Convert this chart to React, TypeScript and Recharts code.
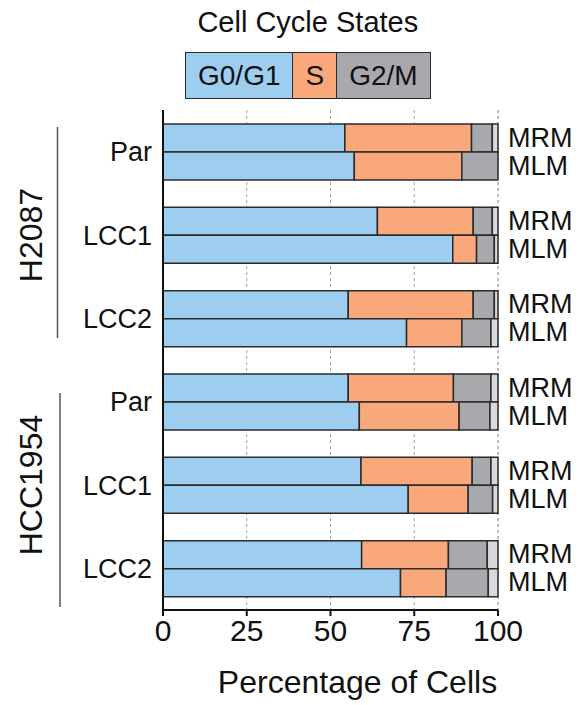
import React from "react";
import { BarChart, Bar, XAxis, YAxis, CartesianGrid, Legend, Label } from "recharts";

const FONT = "'Liberation Sans', Arial, Helvetica, sans-serif";

const cellLines = ["H2087", "H2087", "H2087", "HCC1954", "HCC1954", "HCC1954"];
const samples = ["Par", "LCC1", "LCC2", "Par", "LCC1", "LCC2"];
const stacks = ["MRM", "MLM"];

// MRM row of each pair (top bar)
const mrmG1 = [54.3, 64.0, 55.3, 55.3, 59.1, 59.3];
const mrmS = [37.8, 28.6, 37.3, 31.4, 33.2, 25.9];
const mrmG2 = [6.2, 5.7, 6.3, 11.2, 5.6, 11.6];
const mrmOther = [1.7, 1.7, 1.1, 2.1, 2.1, 3.2];

// MLM row of each pair (bottom bar)
const mlmG1 = [57.1, 86.5, 72.7, 58.6, 73.2, 70.9];
const mlmS = [32.1, 7.1, 16.5, 29.8, 17.9, 13.6];
const mlmG2 = [10.8, 5.3, 8.7, 9.2, 7.3, 12.6];
const mlmOther = [0, 1.1, 2.1, 2.4, 1.6, 2.9];

const phases = ["G0/G1", "S", "G2/M"];
const phaseColors = ["#9dcdef", "#f9a87c", "#a8a9ad"];
const otherColor = "#d9d9db";
const xTicks = [0, 25, 50, 75, 100];

const rows = samples.map((s, i) => ({
  sample: s,
  line: cellLines[i],
  mrmG1: mrmG1[i],
  mrmS: mrmS[i],
  mrmG2: mrmG2[i],
  mrmOther: mrmOther[i],
  mlmG1: mlmG1[i],
  mlmS: mlmS[i],
  mlmG2: mlmG2[i],
  mlmOther: mlmOther[i],
}));

const EDGE = "#2b2b2b";
const BAR = 28;

function CycleLegend({ payload }: any) {
  const items = phases.map((name, i) => {
    const hit = (payload || []).find((p: any) => p.value === name);
    return { name, color: hit ? hit.color : phaseColors[i] };
  });
  return (
    <div style={{ fontFamily: FONT, color: "#111" }}>
      <div style={{ textAlign: "center", fontSize: 29, lineHeight: "29px", marginTop: 8 }}>Cell Cycle States</div>
      <div style={{ display: "flex", marginTop: 15, border: `1.5px solid ${EDGE}`, height: 45 }}>
        {items.map((p, i) => (
          <div
            key={p.name}
            style={{
              background: p.color,
              padding: "0 12px",
              fontSize: 28,
              lineHeight: "45px",
              borderLeft: i ? `1.5px solid ${EDGE}` : "none",
            }}
          >
            {p.name}
          </div>
        ))}
      </div>
    </div>
  );
}

function GroupTick(props: any) {
  const { y, index, payload } = props;
  if (index !== 1 && index !== 4) return <g />;
  const up = index === 1 ? 108 : 92;
  const down = index === 1 ? 103 : 122;
  const lx = index === 1 ? 57.5 : 60;
  const tx = 42;
  return (
    <g>
      <line x1={lx} x2={lx} y1={y - up} y2={y + down} stroke="#555" strokeWidth={1.5} />
      <text
        x={tx}
        y={y}
        transform={`rotate(-90 ${tx} ${y})`}
        textAnchor="middle"
        fontSize={32}
        fontFamily={FONT}
        fill="#111"
      >
        {payload.value}
      </text>
    </g>
  );
}

// one label per stacked bar of the pair, beside the bar's end
function PairTick(props: any) {
  const { x, y } = props;
  return (
    <g>
      {stacks.map((s, k) => (
        <text
          key={s}
          x={x}
          y={y + (k - 0.5) * BAR}
          dominantBaseline="central"
          textAnchor="start"
          fontSize={27}
          fontFamily={FONT}
          fill="#111"
        >
          {s}
        </text>
      ))}
    </g>
  );
}

export default function App() {
  return (
    <div style={{ position: "absolute", left: 0, top: 0, background: "#fff" }}>
      <BarChart
        width={579}
        height={705}
        data={rows}
        layout="vertical"
        margin={{ top: 110, right: 0, bottom: 0, left: 0 }}
        barGap={0}
        barSize={BAR}
      >
        <CartesianGrid horizontal={false} strokeDasharray="3 3" stroke="#a5a5a5" />
        <XAxis
          type="number"
          domain={[0, 100]}
          ticks={xTicks}
          interval={0}
          height={95}
          axisLine={{ stroke: "#111", strokeWidth: 2 }}
          tickLine={{ stroke: "#111", strokeWidth: 2 }}
          tickSize={6}
          tickMargin={4}
          tick={{ fontSize: 30, fill: "#111", fontFamily: FONT }}
        >
          <Label
            value="Percentage of Cells"
            position="insideBottom"
            offset={12}
            dx={27}
            style={{ fontSize: 32, fill: "#111", fontFamily: FONT }}
          />
        </XAxis>
        <YAxis
          type="category"
          dataKey="sample"
          width={63}
          axisLine={{ stroke: "#111", strokeWidth: 2 }}
          tickLine={false}
          tickSize={0}
          tickMargin={11}
          tick={{ fontSize: 27, fill: "#111", fontFamily: FONT }}
        />
        <YAxis
          yAxisId="group"
          type="category"
          dataKey="line"
          width={100}
          axisLine={false}
          tickLine={false}
          tick={<GroupTick />}
        />
        <YAxis
          yAxisId="pair"
          type="category"
          dataKey="sample"
          orientation="right"
          width={81}
          axisLine={false}
          tickLine={false}
          tickSize={0}
          tickMargin={10}
          tick={<PairTick />}
        />
        <Legend
          layout="horizontal"
          verticalAlign="middle"
          align="center"
          wrapperStyle={{ top: 0, left: 185, width: "auto" }}
          content={<CycleLegend />}
        />
        <Bar dataKey="mrmG1" name={phases[0]} stackId="MRM" fill={phaseColors[0]} stroke={EDGE} strokeWidth={1.5} isAnimationActive={false} />
        <Bar dataKey="mrmS" name={phases[1]} stackId="MRM" fill={phaseColors[1]} stroke={EDGE} strokeWidth={1.5} isAnimationActive={false} />
        <Bar dataKey="mrmG2" name={phases[2]} stackId="MRM" fill={phaseColors[2]} stroke={EDGE} strokeWidth={1.5} isAnimationActive={false} />
        <Bar dataKey="mrmOther" stackId="MRM" legendType="none" fill={otherColor} stroke={EDGE} strokeWidth={1.5} isAnimationActive={false} />
        <Bar dataKey="mlmG1" stackId="MLM" legendType="none" fill={phaseColors[0]} stroke={EDGE} strokeWidth={1.5} isAnimationActive={false} />
        <Bar dataKey="mlmS" stackId="MLM" legendType="none" fill={phaseColors[1]} stroke={EDGE} strokeWidth={1.5} isAnimationActive={false} />
        <Bar dataKey="mlmG2" stackId="MLM" legendType="none" fill={phaseColors[2]} stroke={EDGE} strokeWidth={1.5} isAnimationActive={false} />
        <Bar dataKey="mlmOther" stackId="MLM" legendType="none" fill={otherColor} stroke={EDGE} strokeWidth={1.5} isAnimationActive={false} />
      </BarChart>
    </div>
  );
}
